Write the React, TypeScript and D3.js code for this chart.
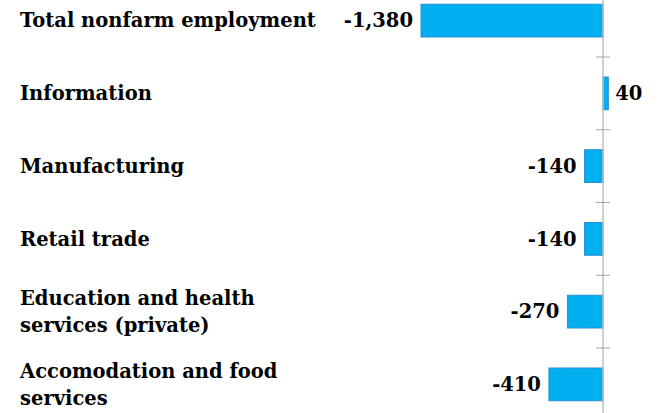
import React from "react";
import * as d3 from "d3";

const categories = [
  "Total nonfarm employment",
  "Information",
  "Manufacturing",
  "Retail trade",
  "Education and health\nservices (private)",
  "Accomodation and food\nservices",
];
const values = [-1380, 40, -140, -140, -270, -410];
const valueLabels = ["-1,380", "40", "-140", "-140", "-270", "-410"];

const W = 660;
const H = 413;
const FONT = "'DejaVu Serif', serif";
const FS = 19.5;

export default function App() {
  const x = d3
    .scaleLinear()
    .domain([d3.min(values) as number, d3.max(values) as number])
    .range([421, 608.3]);
  const y = d3
    .scaleBand<string>()
    .domain(categories)
    .range([-15.75, 420.75])
    .paddingInner(0.55)
    .paddingOuter(0.275);
  const step = y.step();
  const x0 = x(0);
  const boundaries = categories.slice(1).map((c) => (y(c) as number) - (step * 0.55) / 2);

  return (
    <svg
      width={W}
      height={H}
      style={{ position: "absolute", left: 0, top: 0, background: "#fff" }}
    >
      {categories.map((c, i) => {
        const v = values[i];
        const yt = y(c) as number;
        const bx = Math.min(x(v), x0);
        const bw = Math.abs(x(v) - x0);
        const cy = yt + y.bandwidth() / 2;
        const lines = c.split("\n");
        const lh = 27;
        return (
          <g key={c}>
            <rect
              x={bx}
              y={yt}
              width={bw}
              height={y.bandwidth()}
              fill="#00B0F0"
              stroke="#2A8ED0"
              strokeWidth={1}
            />
            <text
              x={v < 0 ? bx - 8 : bx + bw + 7}
              y={cy}
              dy="0.35em"
              textAnchor={v < 0 ? "end" : "start"}
              fontFamily={FONT}
              fontWeight="bold"
              fontSize={FS}
              fill="#000"
            >
              {valueLabels[i]}
            </text>
            <text
              x={20}
              y={cy - ((lines.length - 1) * lh) / 2}
              fontFamily={FONT}
              fontWeight="bold"
              fontSize={FS}
              fill="#000"
            >
              {lines.map((l, j) => (
                <tspan key={j} x={20} dy={j === 0 ? "0.35em" : lh}>
                  {l}
                </tspan>
              ))}
            </text>
          </g>
        );
      })}
      <line x1={x0} x2={x0} y1={0} y2={H} stroke="#BFBFBF" strokeWidth={1.5} />
      {boundaries.map((b, i) => (
        <line key={i} x1={x0 - 7} x2={x0 + 7} y1={b} y2={b} stroke="#A6A6A6" strokeWidth={1} />
      ))}
    </svg>
  );
}
